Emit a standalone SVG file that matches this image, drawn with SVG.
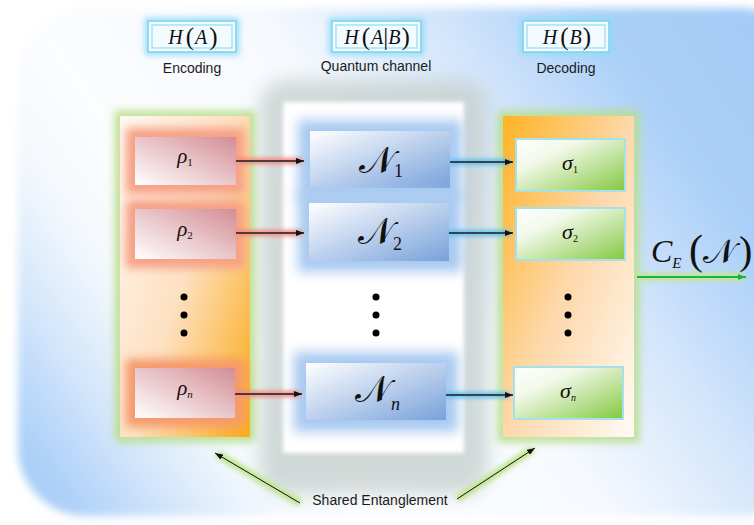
<svg xmlns="http://www.w3.org/2000/svg" width="754" height="525" viewBox="0 0 754 525">
  <defs>
    <style>
      .lbl { font-family: "Liberation Sans", Arial, sans-serif; font-size: 14px; fill: #1a1a1a; text-anchor: middle; }
      .math { font-family: "Liberation Serif", "Times New Roman", serif; fill: #111; }
      .it { font-style: italic; }
      .cal { font-family: "DejaVu Serif", "Liberation Serif", serif; font-style: normal; }
      .dot { fill: #000; }
      .hOuter { fill: #f3fbff; stroke: #7fd3f1; stroke-width: 1.6; }
      .hInner { fill: none; stroke: #9fe2f7; stroke-width: 1.4; }
      .hGlow { fill: none; stroke: #8fdcf6; stroke-width: 6; filter: url(#blur3); }
      .rhoGlow { fill: #f6a085; filter: url(#blur5); }
      .nGlow { fill: #a8c9f1; filter: url(#blur6); }
      .rhoBox { fill: url(#rhoGrad); }
      .nBox { fill: url(#nGrad); }
      .sigBox { fill: url(#sigGrad); stroke: #a6e1ea; stroke-width: 2; }
      .colGlow { fill: none; stroke: #b8df8c; stroke-width: 10; filter: url(#blur4); }
      .wire { stroke: #1b1b1b; stroke-width: 1.6; fill: none; }
      .redHalo { stroke: #f38a84; stroke-width: 6; filter: url(#haze); }
      .blueHalo { stroke: #62c0f0; stroke-width: 6; filter: url(#haze); }
      .greenHalo { stroke: #c3e696; stroke-width: 8; filter: url(#haze); }
    </style>
    <!-- user-space region so straight horizontal strokes still get blurred -->
    <filter id="haze" filterUnits="userSpaceOnUse" x="0" y="0" width="754" height="525"><feGaussianBlur stdDeviation="2"/></filter>
    <filter id="blur2" x="-20%" y="-50%" width="140%" height="200%"><feGaussianBlur stdDeviation="2"/></filter>
    <filter id="blur3" x="-20%" y="-50%" width="140%" height="200%"><feGaussianBlur stdDeviation="3"/></filter>
    <filter id="blur4" x="-20%" y="-20%" width="140%" height="140%"><feGaussianBlur stdDeviation="4"/></filter>
    <filter id="blur5" x="-30%" y="-50%" width="160%" height="200%"><feGaussianBlur stdDeviation="5"/></filter>
    <filter id="blur6" x="-30%" y="-50%" width="160%" height="200%"><feGaussianBlur stdDeviation="6"/></filter>
    <filter id="blur9" x="-20%" y="-20%" width="140%" height="140%"><feGaussianBlur stdDeviation="9"/></filter>

    <linearGradient id="bgGrad" gradientUnits="userSpaceOnUse" x1="754" y1="0" x2="0" y2="525">
      <stop offset="0" stop-color="#a4cbf7"/>
      <stop offset="0.15" stop-color="#aacff8"/>
      <stop offset="0.3" stop-color="#d4e6fb"/>
      <stop offset="0.45" stop-color="#f6f9fe"/>
      <stop offset="0.66" stop-color="#fcfdfe"/>
      <stop offset="0.75" stop-color="#f3f8fd"/>
      <stop offset="0.84" stop-color="#d2e5fb"/>
      <stop offset="0.93" stop-color="#abcff8"/>
      <stop offset="1" stop-color="#a7cdf7"/>
    </linearGradient>
    <linearGradient id="encGrad" x1="0" y1="0.1" x2="1" y2="0.9">
      <stop offset="0" stop-color="#fff6ee"/>
      <stop offset="0.5" stop-color="#fde0c1"/>
      <stop offset="1" stop-color="#fbae22"/>
    </linearGradient>
    <linearGradient id="decGrad" x1="0" y1="0" x2="1" y2="1">
      <stop offset="0" stop-color="#ffb324"/>
      <stop offset="0.5" stop-color="#fdd8aa"/>
      <stop offset="1" stop-color="#fffaf5"/>
    </linearGradient>
    <linearGradient id="rhoGrad" x1="0" y1="1" x2="1" y2="0">
      <stop offset="0" stop-color="#ffffff"/>
      <stop offset="1" stop-color="#d38d95"/>
    </linearGradient>
    <linearGradient id="nGrad" x1="0" y1="0" x2="1" y2="1">
      <stop offset="0" stop-color="#ffffff"/>
      <stop offset="1" stop-color="#78a1da"/>
    </linearGradient>
    <linearGradient id="sigGrad" x1="0" y1="0" x2="1" y2="1">
      <stop offset="0" stop-color="#ffffff"/>
      <stop offset="0.3" stop-color="#f2f9ea"/>
      <stop offset="1" stop-color="#84c840"/>
    </linearGradient>

    <marker id="headDark" viewBox="0 0 8 6" refX="8" refY="3" markerWidth="8" markerHeight="6" markerUnits="userSpaceOnUse" orient="auto">
      <path d="M0,0 L8,3 L0,6 z" fill="#111"/>
    </marker>
    <marker id="headGreen" viewBox="0 0 8 6" refX="8" refY="3" markerWidth="8" markerHeight="6" markerUnits="userSpaceOnUse" orient="auto">
      <path d="M0,0 L8,3 L0,6 z" fill="#20b04a"/>
    </marker>
  </defs>

  <!-- page and soft blue backdrop -->
  <rect width="754" height="525" fill="#ffffff"/>
  <rect x="18" y="8" width="790" height="508" rx="68" fill="url(#bgGrad)" filter="url(#blur4)"/>

  <!-- grey well holding the channel column -->
  <g id="channel-well">
    <rect x="260" y="80" width="228" height="414" rx="26" fill="#c7d0cf" opacity="0.8" filter="url(#blur9)"/>
    <rect x="283" y="102" width="181" height="351" fill="#ffffff" filter="url(#blur2)"/>
  </g>

  <!-- entropy headers -->
  <g id="header-encoding">
    <rect class="hGlow" x="148" y="21" width="88" height="31"/>
    <rect class="hOuter" x="148" y="21" width="88" height="31"/>
    <rect class="hInner" x="152" y="25" width="80" height="23"/>
    <text class="math" x="193" y="44" text-anchor="middle" font-size="20"><tspan class="it">H</tspan><tspan font-size="25" dx="3" dy="1">(</tspan><tspan class="it" dx="1" dy="-1">A</tspan><tspan font-size="25" dx="2" dy="1">)</tspan></text>
    <text class="lbl" x="192" y="73">Encoding</text>
  </g>
  <g id="header-channel">
    <rect class="hGlow" x="332" y="21" width="89" height="31"/>
    <rect class="hOuter" x="332" y="21" width="89" height="31"/>
    <rect class="hInner" x="336" y="25" width="81" height="23"/>
    <text class="math" x="377" y="44" text-anchor="middle" font-size="20"><tspan class="it">H</tspan><tspan font-size="25" dx="3" dy="1">(</tspan><tspan class="it" dx="1" dy="-1">A</tspan><tspan font-size="25" dy="1">|</tspan><tspan class="it" dy="-1">B</tspan><tspan font-size="25" dx="1" dy="1">)</tspan></text>
    <text class="lbl" x="376" y="71">Quantum channel</text>
  </g>
  <g id="header-decoding">
    <rect class="hGlow" x="523" y="21" width="86" height="31"/>
    <rect class="hOuter" x="523" y="21" width="86" height="31"/>
    <rect class="hInner" x="527" y="25" width="78" height="23"/>
    <text class="math" x="567" y="44" text-anchor="middle" font-size="20"><tspan class="it">H</tspan><tspan font-size="25" dx="3" dy="1">(</tspan><tspan class="it" dx="1" dy="-1">B</tspan><tspan font-size="25" dx="1" dy="1">)</tspan></text>
    <text class="lbl" x="566" y="73">Decoding</text>
  </g>

  <!-- encoder column -->
  <g id="encoder">
    <rect class="colGlow" x="120" y="116" width="130" height="321"/>
    <rect x="120" y="116" width="130" height="321" fill="url(#encGrad)"/>
  </g>
  <g id="rho-1">
    <rect class="rhoGlow" x="126" y="128" width="119" height="66"/>
    <rect class="rhoBox" x="135" y="137" width="101" height="48"/>
    <text class="math" x="185" y="163" text-anchor="middle" font-size="21"><tspan class="it">ρ</tspan><tspan font-size="11" dy="3">1</tspan></text>
  </g>
  <g id="rho-2">
    <rect class="rhoGlow" x="126" y="200" width="119" height="68"/>
    <rect class="rhoBox" x="135" y="209" width="101" height="50"/>
    <text class="math" x="185" y="236" text-anchor="middle" font-size="21"><tspan class="it">ρ</tspan><tspan font-size="11" dy="3">2</tspan></text>
  </g>
  <g id="encoder-dots">
    <circle class="dot" cx="184" cy="297" r="3.5"/>
    <circle class="dot" cx="184" cy="315" r="3.5"/>
    <circle class="dot" cx="184" cy="333" r="3.5"/>
  </g>
  <g id="rho-n">
    <rect class="rhoGlow" x="126" y="359" width="119" height="68" style="fill:#f59a6c"/>
    <rect class="rhoBox" x="135" y="368" width="100" height="50"/>
    <text class="math" x="185" y="395" text-anchor="middle" font-size="21"><tspan class="it">ρ</tspan><tspan class="it" font-size="11" dy="3">n</tspan></text>
  </g>

  <!-- channel uses -->
  <g id="channel-1">
    <rect class="nGlow" x="298" y="120" width="164" height="80"/>
    <rect class="nBox" x="310" y="131" width="140" height="57"/>
    <text class="math cal" x="359" y="173" font-size="37">𝒩</text>
    <text class="math" x="394" y="177" font-size="18">1</text>
  </g>
  <g id="channel-2">
    <rect class="nGlow" x="298" y="192" width="164" height="80"/>
    <rect class="nBox" x="309" y="203" width="140" height="58"/>
    <text class="math cal" x="358" y="244" font-size="37">𝒩</text>
    <text class="math" x="393" y="250" font-size="18">2</text>
  </g>
  <g id="channel-dots">
    <circle class="dot" cx="376" cy="297" r="3.5"/>
    <circle class="dot" cx="376" cy="315" r="3.5"/>
    <circle class="dot" cx="376" cy="333" r="3.5"/>
  </g>
  <g id="channel-n">
    <rect class="nGlow" x="294" y="352" width="164" height="80"/>
    <rect class="nBox" x="306" y="363" width="140" height="57"/>
    <text class="math cal" x="355" y="402" font-size="37">𝒩</text>
    <text class="math it" x="391" y="410" font-size="18">n</text>
  </g>

  <!-- decoder column -->
  <g id="decoder">
    <rect class="colGlow" x="503" y="116" width="131" height="321"/>
    <rect x="503" y="116" width="131" height="321" fill="url(#decGrad)"/>
  </g>
  <g id="sigma-1">
    <rect class="sigBox" x="516" y="139" width="109" height="52"/>
    <text class="math" x="570" y="170" text-anchor="middle" font-size="22"><tspan class="it">σ</tspan><tspan font-size="10" dy="3">1</tspan></text>
  </g>
  <g id="sigma-2">
    <rect class="sigBox" x="516" y="208" width="109" height="52"/>
    <text class="math" x="570" y="239" text-anchor="middle" font-size="22"><tspan class="it">σ</tspan><tspan font-size="10" dy="3">2</tspan></text>
  </g>
  <g id="decoder-dots">
    <circle class="dot" cx="568" cy="297" r="3.5"/>
    <circle class="dot" cx="568" cy="315" r="3.5"/>
    <circle class="dot" cx="568" cy="333" r="3.5"/>
  </g>
  <g id="sigma-n">
    <rect class="sigBox" x="514" y="367" width="109" height="52"/>
    <text class="math" x="568" y="398" text-anchor="middle" font-size="22"><tspan class="it">σ</tspan><tspan class="it" font-size="10" dy="3">n</tspan></text>
  </g>

  <!-- capacity label -->
  <g id="capacity">
    <text class="math" x="651" y="262" font-size="32"><tspan class="it">C</tspan><tspan class="it" font-size="15" dy="6">E</tspan></text>
    <text class="math" x="689" y="264" font-size="42">(</text>
    <text class="math cal" x="703" y="263" font-size="34">𝒩</text>
    <text class="math" x="739" y="264" font-size="40">)</text>
  </g>

  <!-- shared entanglement label -->
  <g id="shared-entanglement">
    <text class="lbl" x="380" y="505">Shared Entanglement</text>
  </g>

  <!-- connectors -->
  <g id="connectors">
    <line class="redHalo" x1="236" y1="161" x2="302" y2="161"/>
    <line class="redHalo" x1="236" y1="233" x2="302" y2="233"/>
    <line class="redHalo" x1="235" y1="394" x2="300" y2="394"/>
    <line class="wire" x1="236" y1="161" x2="304" y2="161" marker-end="url(#headDark)"/>
    <line class="wire" x1="236" y1="233" x2="304" y2="233" marker-end="url(#headDark)"/>
    <line class="wire" x1="235" y1="394" x2="302" y2="394" marker-end="url(#headDark)"/>

    <line class="blueHalo" x1="450" y1="162" x2="510" y2="162"/>
    <line class="blueHalo" x1="449" y1="233" x2="510" y2="233"/>
    <line class="blueHalo" x1="446" y1="395" x2="510" y2="395"/>
    <line class="wire" x1="450" y1="162" x2="513" y2="162" marker-end="url(#headDark)"/>
    <line class="wire" x1="449" y1="233" x2="513" y2="233" marker-end="url(#headDark)"/>
    <line class="wire" x1="446" y1="395" x2="513" y2="395" marker-end="url(#headDark)"/>

    <line class="greenHalo" x1="637" y1="277" x2="744" y2="277"/>
    <line x1="637" y1="277" x2="746" y2="277" stroke="#20b04a" stroke-width="2" marker-end="url(#headGreen)"/>

    <line class="greenHalo" x1="300" y1="503" x2="217" y2="454"/>
    <line class="greenHalo" x1="457" y1="499" x2="533" y2="449"/>
    <line x1="300" y1="503" x2="215" y2="453" stroke="#111" stroke-width="1" marker-end="url(#headDark)"/>
    <line x1="457" y1="499" x2="535" y2="448" stroke="#111" stroke-width="1" marker-end="url(#headDark)"/>
  </g>
</svg>
